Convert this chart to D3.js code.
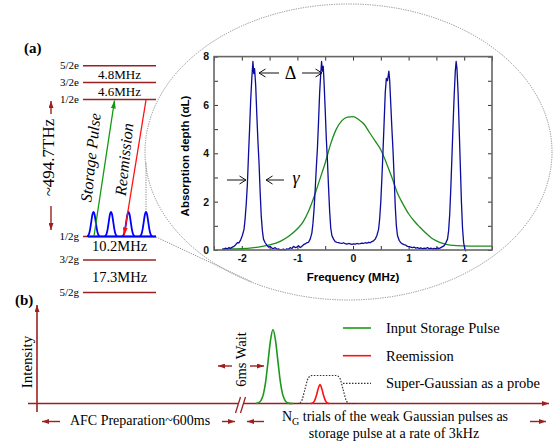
<!DOCTYPE html>
<html><head><meta charset="utf-8">
<script src="https://cdn.jsdelivr.net/npm/d3@7/dist/d3.min.js"></script>
<style>body{margin:0;background:#fff}svg{display:block}</style>
</head><body>
<svg id="c" width="556" height="443"></svg>
<script>
// ---------- DATA ----------
// measured absorption spectrum (frequency MHz, absorption depth αL)
const blueSpectrum = [
[-2.35,0.05],[-2.32,0.02],[-2.29,0.08],[-2.26,0.04],[-2.23,0.10],[-2.20,0.07],[-2.17,0.12],[-2.14,0.15],
[-2.11,0.22],[-2.08,0.30],[-2.05,0.30],[-2.02,0.42],[-1.99,0.60],[-1.96,0.85],[-1.94,1.3],[-1.92,1.9],
[-1.90,2.7],[-1.88,3.9],[-1.86,5.0],[-1.84,6.2],[-1.82,7.1],[-1.80,7.8],[-1.785,7.3],[-1.77,7.5],
[-1.75,6.8],[-1.73,5.6],[-1.71,4.5],[-1.69,3.6],[-1.67,2.4],[-1.65,1.4],[-1.63,0.8],[-1.61,0.45],
[-1.58,0.30],[-1.55,0.20],[-1.52,0.12],[-1.49,0.15],[-1.46,0.08],[-1.43,0.06],[-1.40,0.10],[-1.37,0.03],
[-1.34,0.05],[-1.31,0.00],[-1.28,0.02],[-1.25,0.04],[-1.22,0.00],[-1.19,0.05],[-1.16,0.03],[-1.13,0.10],
[-1.10,0.06],[-1.07,0.15],[-1.04,0.10],[-1.01,0.12],[-0.98,0.18],[-0.95,0.10],[-0.92,0.15],[-0.89,0.22],
[-0.86,0.25],[-0.83,0.30],[-0.80,0.32],[-0.77,0.45],[-0.74,0.70],[-0.72,1.1],[-0.70,1.7],[-0.68,2.5],
[-0.66,3.4],[-0.64,4.2],[-0.62,5.3],[-0.60,6.5],[-0.58,7.3],[-0.565,7.8],[-0.55,7.4],[-0.535,7.6],
[-0.52,6.9],[-0.50,5.8],[-0.48,4.6],[-0.46,3.7],[-0.44,2.6],[-0.42,1.6],[-0.40,0.9],[-0.38,0.6],
[-0.35,0.45],[-0.32,0.35],[-0.29,0.32],[-0.26,0.30],[-0.23,0.28],[-0.20,0.27],[-0.17,0.30],[-0.14,0.26],
[-0.11,0.24],[-0.08,0.27],[-0.05,0.25],[-0.02,0.23],[0.01,0.25],[0.04,0.24],[0.07,0.27],[0.10,0.25],
[0.13,0.26],[0.16,0.28],[0.19,0.27],[0.22,0.30],[0.25,0.28],[0.28,0.32],[0.31,0.30],[0.34,0.35],
[0.37,0.38],[0.40,0.45],[0.43,0.60],[0.46,0.85],[0.48,1.3],[0.50,2.0],[0.52,3.0],[0.54,4.1],
[0.56,5.3],[0.58,6.5],[0.60,7.1],[0.62,7.0],[0.645,7.4],[0.66,7.0],[0.68,6.0],[0.70,5.0],
[0.72,4.1],[0.74,3.0],[0.76,1.8],[0.78,1.0],[0.80,0.6],[0.83,0.4],[0.86,0.3],[0.89,0.25],
[0.92,0.22],[0.95,0.20],[0.98,0.15],[1.01,0.14],[1.04,0.12],[1.07,0.10],[1.10,0.12],[1.13,0.08],
[1.16,0.10],[1.19,0.06],[1.22,0.09],[1.25,0.05],[1.28,0.08],[1.31,0.06],[1.34,0.10],[1.37,0.05],
[1.40,0.08],[1.43,0.04],[1.46,0.07],[1.49,0.05],[1.52,0.09],[1.55,0.06],[1.58,0.10],[1.61,0.14],
[1.64,0.18],[1.67,0.30],[1.70,0.45],[1.72,0.8],[1.74,1.5],[1.76,2.6],[1.78,3.9],[1.80,5.2],
[1.82,6.4],[1.84,7.4],[1.855,7.8],[1.87,7.5],[1.89,6.5],[1.91,5.0],[1.93,3.5],[1.95,2.0],
[1.97,0.9],[1.99,0.3],[2.01,0.05],[2.03,-0.05]
];
// storage pulse spectrum (frequency MHz, αL)
const greenPulse = [
[-2.35,0.05],[-2.1,0.05],[-1.9,0.07],[-1.7,0.12],[-1.5,0.21],[-1.3,0.37],[-1.15,0.58],[-1.0,0.88],
[-0.9,1.15],[-0.8,1.6],[-0.7,2.2],[-0.6,2.9],[-0.5,3.6],[-0.4,4.4],[-0.3,5.0],[-0.2,5.35],
[-0.1,5.5],[0.0,5.52],[0.1,5.4],[0.2,5.2],[0.3,4.85],[0.4,4.5],[0.5,4.15],[0.6,3.6],
[0.7,3.0],[0.8,2.35],[0.9,1.9],[1.0,1.5],[1.1,1.2],[1.2,0.95],[1.3,0.72],[1.4,0.52],
[1.5,0.38],[1.6,0.28],[1.7,0.22],[1.8,0.19],[2.0,0.17],[2.2,0.16],[2.5,0.16]
];
const freqTicks = [-2.5,-2,-1.5,-1,-0.5,0,0.5,1,1.5,2,2.5];
const depthTicks = [0,1,2,3,4,5,6,7,8];
const levelNames = ["5/2e","3/2e","1/2e","1/2g","3/2g","5/2g"];
const splitLabels = ["4.8MHz","4.6MHz","10.2MHz","17.3MHz"];
const combPeakShape = [0,0.03,0.12,0.32,0.62,0.9,1,0.9,0.62,0.32,0.12,0.03,0];
const storagePulseShape = [0,0.01,0.04,0.12,0.3,0.58,0.86,1,0.86,0.58,0.3,0.12,0.04,0.01,0];
const reemissionShape = [0,0.03,0.15,0.42,0.78,1,0.78,0.42,0.15,0.03,0];
const probeShape = [0,0,0,0.08,0.5,0.92,1,1,1,1,1,1,1,1,0.92,0.5,0.08,0,0,0];
const legendLabels = ["Input Storage Pulse","Reemission","Super-Gaussian as a probe"];

// ---------- SETUP ----------
const svg = d3.select("#c");
const DR = "#9c2020";
const serif = "'Liberation Serif','Times New Roman',serif";
const sans = "'Liberation Sans',Arial,sans-serif";
const defs = svg.append("defs");
function filledMarker(id, color, w, h){
  defs.append("marker").attr("id",id).attr("markerUnits","userSpaceOnUse")
    .attr("markerWidth",w).attr("markerHeight",h).attr("refX",w).attr("refY",h/2)
    .attr("orient","auto").append("path")
    .attr("d",`M0,0L${w},${h/2}L0,${h}Z`).attr("fill",color);
}
filledMarker("hDR",DR,7,5);
filledMarker("hG","#119911",8,5);
filledMarker("hR","#ff1010",8,5);
defs.append("marker").attr("id","hOpen").attr("markerUnits","userSpaceOnUse")
  .attr("markerWidth",9).attr("markerHeight",10).attr("refX",7.5).attr("refY",5)
  .attr("orient","auto").append("path").attr("d","M1,1L7.5,5L1,9")
  .attr("fill","none").attr("stroke","#111").attr("stroke-width",1);

function arrow(g,x1,y1,x2,y2,color,marker,w){
  g.append("line").attr("x1",x1).attr("y1",y1).attr("x2",x2).attr("y2",y2)
   .attr("stroke",color).attr("stroke-width",w||1.3).attr("marker-end",`url(#${marker})`);
}

// ---------- ZOOM ELLIPSE ----------
svg.append("ellipse").attr("cx",348.5).attr("cy",152).attr("rx",203.5).attr("ry",148)
  .attr("fill","none").attr("stroke","#8a8a8a").attr("stroke-width",1).attr("stroke-dasharray","1.2,1.2");
svg.append("line").attr("x1",146).attr("y1",212).attr("x2",146).attr("y2",162.5)
  .attr("stroke","#8a8a8a").attr("stroke-dasharray","1.2,1.2");
svg.append("line").attr("x1",156).attr("y1",237).attr("x2",252).attr("y2",282)
  .attr("stroke","#8a8a8a").attr("stroke-dasharray","1.2,1.2");

// ---------- MAIN PLOT ----------
const x = d3.scaleLinear().domain([-2.5,2.5]).range([214,492]);
const y = d3.scaleLinear().domain([0,8]).range([250,56.6]);
const plot = svg.append("g");
const fmt = d => Number.isInteger(d) ? String(d) : "";
function styleAxis(g){
  g.select(".domain").remove();
  g.selectAll(".tick line").attr("stroke","#333").attr("stroke-width",1);
  g.selectAll("text").attr("font-family",sans).attr("font-weight","bold").attr("font-size","10.5px").attr("fill","#111");
}
plot.append("g").attr("transform","translate(0,250)")
  .call(d3.axisBottom(x).tickValues(freqTicks).tickSizeInner(-4).tickSizeOuter(0).tickPadding(5).tickFormat(fmt)).call(styleAxis);
plot.append("g").attr("transform","translate(0,56.6)")
  .call(d3.axisTop(x).tickValues(freqTicks).tickSizeInner(-4).tickSizeOuter(0).tickFormat("")).call(styleAxis);
plot.append("g").attr("transform","translate(214,0)")
  .call(d3.axisLeft(y).tickValues(depthTicks).tickSizeInner(-4).tickSizeOuter(0).tickPadding(5)
    .tickFormat(d => d%2===0 ? String(d) : "")).call(styleAxis);
plot.append("g").attr("transform","translate(492,0)")
  .call(d3.axisRight(y).tickValues(depthTicks).tickSizeInner(-4).tickSizeOuter(0).tickFormat("")).call(styleAxis);

plot.append("path").datum(greenPulse).attr("d",d3.line().x(d=>x(d[0])).y(d=>y(d[1])).curve(d3.curveMonotoneX))
  .attr("fill","none").attr("stroke","#1c8c1c").attr("stroke-width",1.3);
plot.append("path").datum(blueSpectrum).attr("d",d3.line().x(d=>x(d[0])).y(d=>y(d[1])))
  .attr("fill","none").attr("stroke","#0c0c9c").attr("stroke-width",1.3).attr("stroke-linejoin","round");

plot.append("rect").attr("x",214).attr("y",56.6).attr("width",278).attr("height",250-56.6)
  .attr("fill","none").attr("stroke","#666").attr("stroke-width",1.6);

plot.append("text").attr("x",353).attr("y",281).attr("text-anchor","middle")
  .attr("font-family",sans).attr("font-weight","bold").attr("font-size","11.5px").text("Frequency (MHz)");
plot.append("text").attr("transform","translate(189,156) rotate(-90)").attr("text-anchor","middle")
  .attr("font-family",sans).attr("font-weight","bold").attr("font-size","11.5px").text("Absorption depth (αL)");

// Δ and γ annotations
arrow(plot,279,73,259,73,"#111","hOpen",1);
arrow(plot,302,73,322,73,"#111","hOpen",1);
plot.append("text").attr("x",290.5).attr("y",79).attr("text-anchor","middle")
  .attr("font-family",serif).attr("font-size","18px").text("Δ");
arrow(plot,227,180,246,180,"#111","hOpen",1);
arrow(plot,284,180,266,180,"#111","hOpen",1);
plot.append("text").attr("x",296).attr("y",184).attr("text-anchor","middle")
  .attr("font-family",serif).attr("font-style","italic").attr("font-size","18px").text("γ");

// ---------- PANEL (a) LEVEL DIAGRAM ----------
const A = svg.append("g");
A.append("text").attr("x",24).attr("y",53).attr("font-family",serif).attr("font-weight","bold")
  .attr("font-size","15px").text("(a)");
const levelY = d3.scaleOrdinal().domain(levelNames).range([65.7,82.5,99.5,236.5,260,292.5]);
const lx1 = 83, lx2 = 156;
levelNames.forEach(n=>{
  A.append("line").attr("x1",lx1).attr("x2",lx2).attr("y1",levelY(n)).attr("y2",levelY(n))
    .attr("stroke",DR).attr("stroke-width",1.5);
  A.append("text").attr("x",79).attr("y",levelY(n)+3).attr("text-anchor","end")
    .attr("font-family",serif).attr("font-size","11px").text(n);
});
const splitY = [78.5,96,250.5,282], splitFs = [13,13,14.5,14.5];
splitLabels.forEach((s,i)=>{
  A.append("text").attr("x",119.5).attr("y",splitY[i]).attr("text-anchor","middle")
    .attr("font-family",serif).attr("font-size",splitFs[i]+"px").text(s);
});
// frequency gap
arrow(A,51,114,51,101,DR,"hDR",1.4);
arrow(A,51,206,51,230,DR,"hDR",1.4);
A.append("text").attr("transform","translate(54,157.5) rotate(-90)").attr("text-anchor","middle")
  .attr("font-family",serif).attr("font-size","17px").text("~494.7THz");
// comb
const combCenters = [93.5,111,128.5,146];
const gBase = levelY("1/2g"), combH = 24.5, combHalf = 6.5;
A.append("line").attr("x1",88).attr("x2",156).attr("y1",gBase).attr("y2",gBase)
  .attr("stroke","#0000ff").attr("stroke-width",1.8);
const combX = d3.scaleLinear().domain([0,combPeakShape.length-1]).range([-combHalf,combHalf]);
combCenters.forEach(c=>{
  A.append("path").datum(combPeakShape)
    .attr("d",d3.line().x((d,i)=>c+combX(i)).y(d=>gBase-d*combH).curve(d3.curveMonotoneX))
    .attr("fill","none").attr("stroke","#0000ff").attr("stroke-width",1.8);
});
// transitions
arrow(A,94,236,114.5,100.5,"#119911","hG",1.3);
arrow(A,146,100,124,235.5,"#ff1010","hR",1.3);
A.append("text").attr("transform","translate(96,158) rotate(-84)").attr("text-anchor","middle")
  .attr("font-family",serif).attr("font-style","italic").attr("font-size","16px").text("Storage Pulse");
A.append("text").attr("transform","translate(129.5,160) rotate(-84)").attr("text-anchor","middle")
  .attr("font-family",serif).attr("font-style","italic").attr("font-size","16px").text("Reemission");

// ---------- PANEL (b) ----------
const B = svg.append("g");
B.append("text").attr("x",15).attr("y",305).attr("font-family",serif).attr("font-weight","bold")
  .attr("font-size","15px").text("(b)");
const axY = 403.5;
arrow(B,37,412,37,305,DR,"hDR",1.6);
arrow(B,28,axY,549,axY,DR,"hDR",1.6);
// break marks
B.append("rect").attr("x",238).attr("y",axY-2).attr("width",5).attr("height",4).attr("fill","#fff");
B.append("line").attr("x1",235.5).attr("y1",413).attr("x2",240.5).attr("y2",397).attr("stroke",DR).attr("stroke-width",1.3);
B.append("line").attr("x1",240.5).attr("y1",413).attr("x2",245.5).attr("y2",397).attr("stroke",DR).attr("stroke-width",1.3);
B.append("text").attr("transform","translate(32,362) rotate(-90)").attr("text-anchor","middle")
  .attr("font-family",serif).attr("font-size","15px").text("Intensity");
// 6ms wait
B.append("text").attr("transform","translate(246,359.5) rotate(-90)").attr("text-anchor","middle")
  .attr("font-family",serif).attr("font-size","14.5px").text("6ms Wait");
arrow(B,232,366,218,366,DR,"hDR",1.4);
arrow(B,250,366,264,366,DR,"hDR",1.4);
// AFC preparation
arrow(B,60,421.5,42,421.5,DR,"hDR",1.4);
arrow(B,222,421.5,235,421.5,DR,"hDR",1.4);
B.append("text").attr("x",140).attr("y",425).attr("text-anchor","middle")
  .attr("font-family",serif).attr("font-size","14px").text("AFC Preparation~600ms");
// NG trials
arrow(B,264,421.5,247,421.5,DR,"hDR",1.4);
arrow(B,530,421.5,546,421.5,DR,"hDR",1.4);
const t1 = B.append("text").attr("x",395).attr("y",421).attr("text-anchor","middle")
  .attr("font-family",serif).attr("font-size","14px");
t1.append("tspan").text("N");
t1.append("tspan").attr("font-size","10px").attr("dy",3.5).text("G");
t1.append("tspan").attr("dy",-3.5).text(" trials of the weak Gaussian pulses as");
B.append("text").attr("x",394).attr("y",438).attr("text-anchor","middle")
  .attr("font-family",serif).attr("font-size","14px").text("storage pulse at a rate of 3kHz");
// pulses
function pulse(shape, x0, x1, h, color, dash){
  const sx = d3.scaleLinear().domain([0,shape.length-1]).range([x0,x1]);
  B.append("path").datum(shape).attr("d",d3.line().x((d,i)=>sx(i)).y(d=>axY-d*h).curve(d3.curveMonotoneX))
    .attr("fill","none").attr("stroke",color).attr("stroke-width",dash?1.2:1.6)
    .attr("stroke-dasharray",dash?"1.5,1.5":null);
}
pulse(probeShape,291,357,28,"#333",true);
pulse(storagePulseShape,256,290,74,"#1a9a1a",false);
B.append("line").attr("x1",289).attr("x2",293).attr("y1",axY).attr("y2",axY).attr("stroke","#1a9a1a").attr("stroke-width",1.6);
pulse(reemissionShape,311,329,19,"#ff1010",false);
// legend
const legY = [328,355.7,383.3], legCol = ["#1a9a1a","#ff1010","#333"];
legendLabels.forEach((l,i)=>{
  B.append("line").attr("x1",343).attr("x2",371).attr("y1",legY[i]).attr("y2",legY[i])
    .attr("stroke",legCol[i]).attr("stroke-width",i===2?1.2:1.6).attr("stroke-dasharray",i===2?"1.5,1.5":null);
  B.append("text").attr("x",386).attr("y",legY[i]+5).attr("font-family",serif).attr("font-size","14.5px").text(l);
});
</script>
</body></html>
